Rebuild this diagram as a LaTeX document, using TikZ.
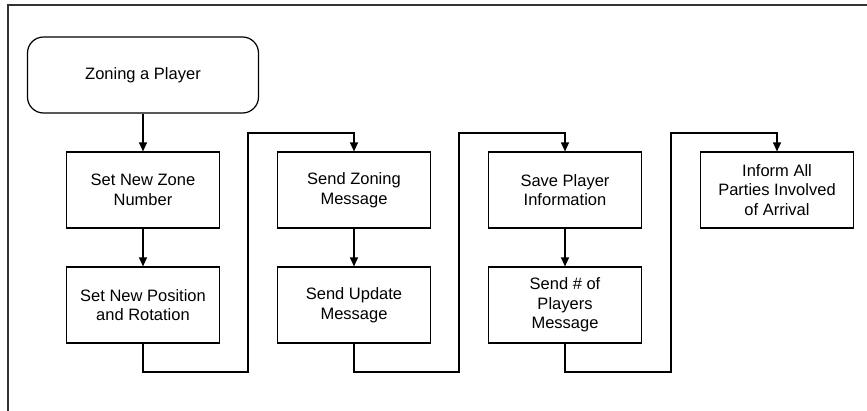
\documentclass[tikz,border=0pt]{standalone}
\usepackage{fontspec}
\setmainfont{Liberation Sans}
\usetikzlibrary{arrows.meta}
\begin{document}
\begin{tikzpicture}[x=1pt,y=-1pt,
  boxstyle/.style={draw=black, line width=1.2pt, fill=white, minimum width=153pt, minimum height=76pt, align=center, inner sep=2pt,
    font=\fontsize{16.5}{19.5}\selectfont},
  roundbox/.style={boxstyle, rounded corners=16pt, minimum width=231pt},
  arr/.style={draw=black, line width=1.2pt, -{Triangle[width=8pt,length=9pt]}}]
\useasboundingbox (0,0) rectangle (867,410);
\draw[line width=1.8pt, color=black!80] (8,420) -- (8,5) -- (880,5);
\node[roundbox] (start) at (143,75) {Zoning a Player};
\node[boxstyle] (a1) at (143,190) {Set New Zone\\Number};
\node[boxstyle] (a2) at (143,305) {Set New Position\\and Rotation};
\node[boxstyle] (b1) at (354,190) {Send Zoning\\Message};
\node[boxstyle] (b2) at (354,305) {Send Update\\Message};
\node[boxstyle] (c1) at (565,190) {Save Player\\Information};
\node[boxstyle] (c2) at (565,305) {Send \# of\\Players\\Message};
\node[boxstyle] (d1) at (777,190) {Inform All\\Parties Involved\\of Arrival};
\coordinate (k1b) at (248,372);
\coordinate (k1t) at (248,133);
\coordinate (k2b) at (459,372);
\coordinate (k2t) at (459,133);
\coordinate (k3b) at (671,372);
\coordinate (k3t) at (671,133);
\draw[arr] (start.south) -- (a1.north);
\draw[arr] (a1.south) -- (a2.north);
\draw[arr] (b1.south) -- (b2.north);
\draw[arr] (c1.south) -- (c2.north);
\draw[arr] (a2.south) |- (k1b) -- (k1t) -| (b1.north);
\draw[arr] (b2.south) |- (k2b) -- (k2t) -| (c1.north);
\draw[arr] (c2.south) |- (k3b) -- (k3t) -| (d1.north);
\end{tikzpicture}
\end{document}
